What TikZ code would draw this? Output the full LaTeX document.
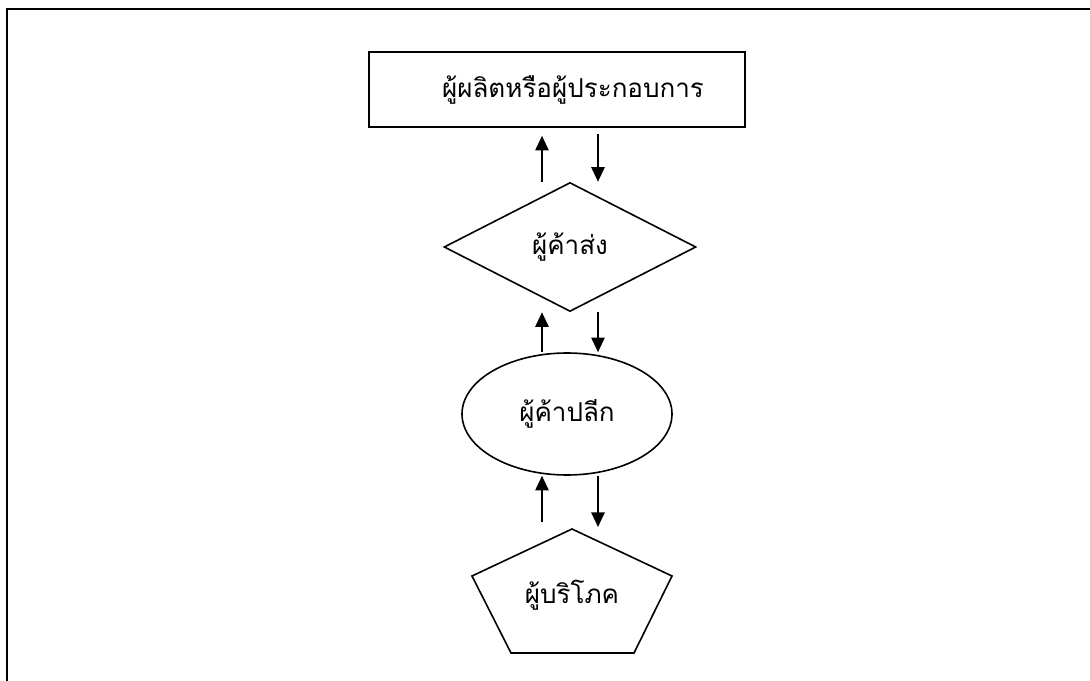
\documentclass[tikz,border=0pt]{standalone}
\usepackage{fontspec}
\newfontfamily\thaifont[Script=Thai]{Loma}
\usetikzlibrary{shapes.geometric,arrows.meta}
\tikzset{every picture/.style={line width=0.75pt}}

\begin{document}
\begin{tikzpicture}[x=0.75pt,y=0.75pt,yscale=-1,xscale=1,
	shapebox/.style={draw, line width=1.2pt, inner sep=0pt, font=\thaifont\fontsize{19.5}{23}\selectfont},
	flowarr/.style={line width=1.5pt, -{Triangle[width=10pt,length=11pt]}}]
	\useasboundingbox (0,0) rectangle (1090,681);
	
	%Straight Lines [id:frame] 
	\draw [line width=1.5pt]   (7,681) -- (7,9) -- (1090,9) ;
	
	%Shape: Rectangle [id:maker] 
	\node [shapebox, minimum width=282pt, minimum height=56.25pt] (maker) at (557,89.5) {\hspace*{24pt}ผู้ผลิตหรือผู้ประกอบการ};
	%Shape: Diamond [id:whole] 
	\node [shapebox, diamond, minimum width=189pt, minimum height=96.75pt] (whole) at (570,247) {ผู้ค้าส่ง};
	%Shape: Ellipse [id:retail] 
	\node [shapebox, ellipse, minimum width=157.5pt, minimum height=91.5pt] (retail) at (567,414) {ผู้ค้าปลีก};
	%Shape: Pentagon [id:cons] 
	\coordinate (constop) at (572,529) ;
	\draw [line width=1.2pt]   (constop) -- (672,576) -- (634,653) -- (511,653) -- (472,576) -- cycle ;
	% Text Node
	\node [font=\thaifont\fontsize{19.5}{23}\selectfont, inner sep=0pt] (cons) at (572,595) {ผู้บริโภค};
	
	\coordinate (up) at (542,0) ;
	\coordinate (dn) at (598,0) ;
	%Straight Lines [id:arrows] 
	\draw [flowarr, shorten >=6pt]   (whole.north -| up) -- (maker.south -| up) ;
	\draw [flowarr, shorten <=4.5pt]   (maker.south -| dn) -- (whole.north -| dn) ;
	\draw [flowarr]   (retail.north -| up) -- (whole.south -| up) ;
	\draw [flowarr]   (whole.south -| dn) -- (retail.north -| dn) ;
	\draw [flowarr, shorten <=5pt]   (constop -| up) -- (retail.south -| up) ;
	\draw [flowarr, shorten >=1.5pt]   (retail.south -| dn) -- (constop -| dn) ;
\end{tikzpicture}
\end{document}
